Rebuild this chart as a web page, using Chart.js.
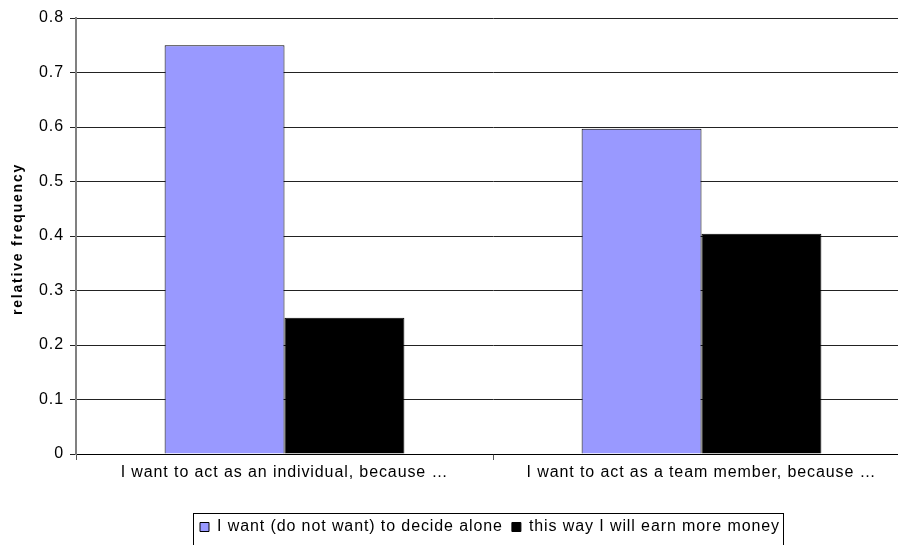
<!DOCTYPE html>
<html>
<head>
<meta charset="utf-8">
<script src="https://cdn.jsdelivr.net/npm/chart.js@4/dist/chart.umd.min.js"></script>
<style>
  html, body { margin: 0; padding: 0; overflow: hidden; background: #fff; }
  #wrap { width: 912px; height: 545px; }
</style>
</head>
<body>
<div id="wrap"><canvas id="chart" width="912" height="545"></canvas></div>
<script>
const categories = [
    'I want to act as an individual, because …',
    'I want to act as a team member, because …',
];
const seriesNames = [
    'I want (do not want) to decide alone',
    'this way I will earn more money',
];
const decideAlone = [0.75, 0.597];
const earnMore = [0.25, 0.404];
const yTicks = [0, 0.1, 0.2, 0.3, 0.4, 0.5, 0.6, 0.7, 0.8];
const yTitle = 'relative frequency';

const font = 'Liberation Sans, Arial, sans-serif';
const spacing = '0.9px'; // the original text runs a bit wider than Arial

// wider letter spacing, y title, legend frame, legend moved right a little
const extras = {
    id: 'extras',
    beforeUpdate(chart) { chart.ctx.letterSpacing = spacing; },
    beforeDraw(chart) { chart.ctx.letterSpacing = spacing; },
    afterLayout(chart) {
        const lg = chart.legend;
        lg.left += 35;
        lg.right += 35;
    },
    afterDraw(chart) {
        const ctx = chart.ctx;
        ctx.save();
        // y axis title
        ctx.letterSpacing = '1.8px';
        ctx.font = 'bold 14px ' + font;
        ctx.fillStyle = '#000';
        ctx.textAlign = 'center';
        ctx.textBaseline = 'middle';
        ctx.translate(18, 239);
        ctx.rotate(-Math.PI / 2);
        ctx.fillText(yTitle, 0, 0);
        ctx.restore();

        const boxes = chart.legend.legendHitBoxes;
        if (!boxes || !boxes.length) return;
        const last = boxes[boxes.length - 1];
        const cy = boxes[0].top + boxes[0].height / 2;
        const x0 = Math.round(boxes[0].left - 7);
        const x1 = Math.round(last.left + last.width + 3);
        const y0 = Math.round(cy - 14);
        const y1 = Math.round(cy + 18);
        ctx.save();
        ctx.strokeStyle = '#000';
        ctx.lineWidth = 1;
        ctx.strokeRect(x0 + 0.5, y0 + 0.5, x1 - x0, y1 - y0);
        ctx.restore();
    }
};

const data = {
    labels: categories,
    datasets: [{
        label: seriesNames[0],
        data: decideAlone,
        backgroundColor: '#9999ff',
        borderColor: '#000',
        borderWidth: 1,
    }, {
        label: seriesNames[1],
        data: earnMore,
        backgroundColor: '#000',
        borderColor: '#000',
        borderWidth: 1,
    }],
};

const config = {
    type: 'bar',
    data: data,
    options: {
        responsive: false,
        animation: false,
        events: [],
        categoryPercentage: 0.575,
        barPercentage: 1,
        layout: { padding: { top: 18, left: 0, right: 2, bottom: 0 } },
        plugins: {
            tooltip: { enabled: false },
            legend: {
                position: 'bottom',
                labels: {
                    color: '#000',
                    font: { family: font, size: 16 },
                    boxWidth: 9,
                    boxHeight: 9,
                    padding: 9,
                },
            },
        },
        scales: {
            x: {
                afterFit: s => { s.height = 56; },
                grid: {
                    drawOnChartArea: false,
                    color: '#555',
                    tickLength: 6,
                },
                border: { color: '#000', width: 1 },
                ticks: {
                    color: '#000',
                    font: { family: font, size: 16 },
                    padding: 3,
                    maxRotation: 0,
                },
            },
            y: {
                min: 0,
                max: 0.8,
                afterFit: s => { s.width = 76; },
                afterBuildTicks: s => { s.ticks = yTicks.map(v => ({ value: v })); },
                grid: {
                    color: '#222',
                    tickLength: 6,
                },
                border: { color: '#808080', width: 2 },
                ticks: {
                    color: '#000',
                    font: { family: font, size: 16 },
                    padding: 6,
                },
            },
        },
    },
    plugins: [extras],
};

new Chart(document.getElementById('chart'), config);
</script>
</body>
</html>
